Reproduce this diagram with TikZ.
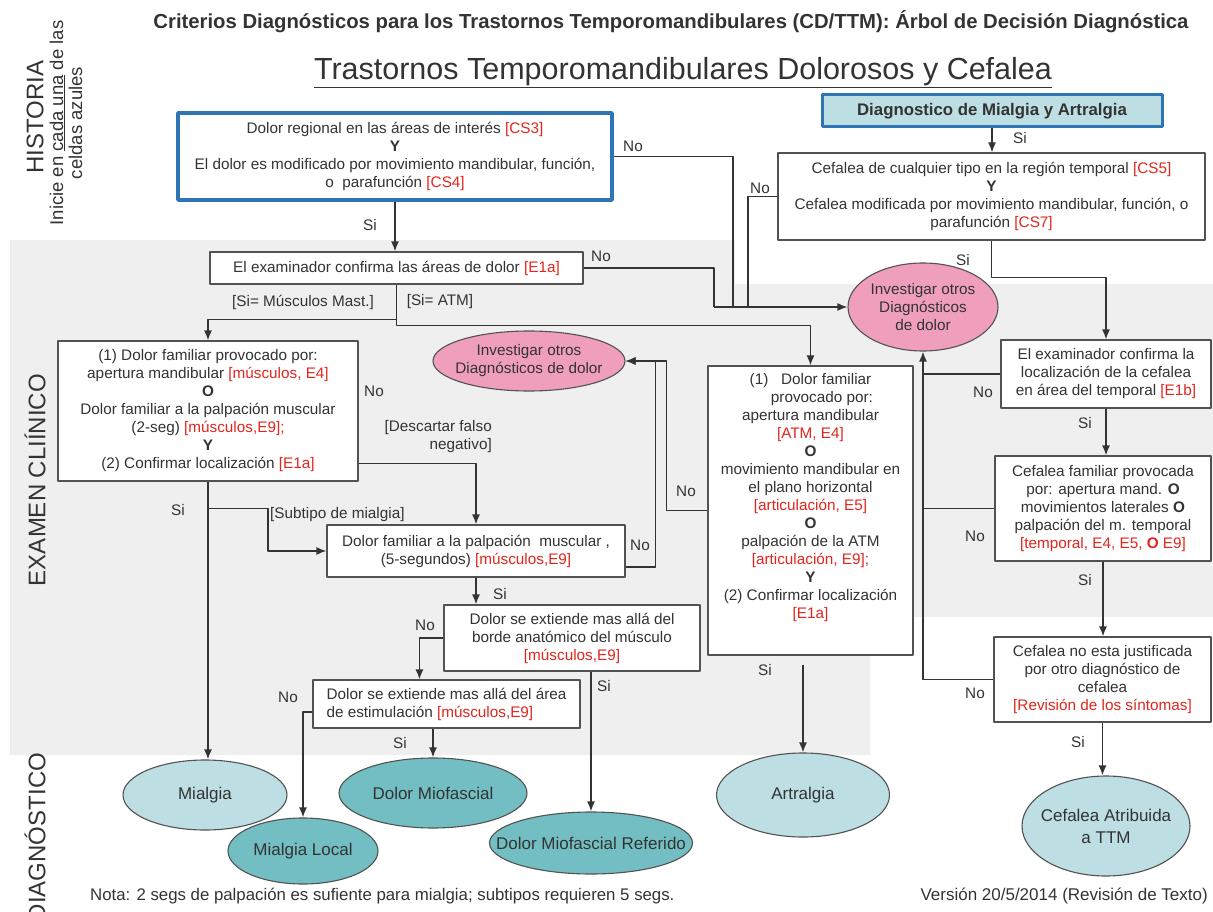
\documentclass[tikz,border=0pt]{standalone}
\usepackage{fontspec}
\setmainfont{Liberation Sans}
\usepackage{tikz}
\usetikzlibrary{arrows.meta, calc, positioning, shapes.geometric}

\definecolor{refblue}{RGB}{46,117,182}
\definecolor{refred}{RGB}{226,38,30}
\definecolor{refpink}{RGB}{240,158,190}
\definecolor{reflight}{RGB}{189,223,227}
\definecolor{refteal}{RGB}{115,190,194}
\definecolor{refgrey}{RGB}{239,239,239}
\definecolor{refink}{RGB}{51,51,51}

\newcommand{\boxfont}{\fontsize{15.3pt}{18pt}\selectfont}
\newcommand{\ovalfont}{\fontsize{17pt}{22pt}\selectfont}
\newcommand{\crit}[1]{\textcolor{refred}{#1}}

\tikzset{
  box/.style={draw=refink!85, line width=1.1pt, fill=white, text=refink,
    font=\boxfont, align=center, inner sep=0pt},
  bluebox/.style={box, draw=refblue, line width=3.5pt},
  headbox/.style={bluebox, fill=reflight, line width=3pt},
  oval/.style={ellipse, draw=refink!85, line width=1.1pt, text=refink,
    font=\ovalfont, align=center, inner xsep=-40pt, inner ysep=-4pt},
  lbl/.style={text=refink, font=\boxfont, inner sep=0pt},
  conn/.style={draw=refink, line width=1.6pt},
  side/.style={text=refink, rotate=90, inner sep=0pt},
}

\begin{document}
\begin{tikzpicture}[x=1pt,y=-1pt,>={Latex[length=10pt,width=8pt]},line join=bevel]
\useasboundingbox (0,0) rectangle (1213,912);
%% grey band of the clinical exam
\fill[refgrey] (10,240) -- (735,240) -- (735,284) -- (1213,284) -- (1213,617)
  -- (870,617) -- (870,755) -- (10,755) -- cycle;
%%
  % Node: title
  \node[text=refink, inner sep=0pt] (title) at (671,22)
    {\fontsize{20.3pt}{22pt}\selectfont\bfseries Criterios Diagnósticos para los Trastornos Temporomandibulares (CD/TTM): Árbol de Decisión Diagnóstica};
  \node[text=refink, inner sep=0pt] (subtitle) at (683,73)
    {\fontsize{30.5pt}{34pt}\selectfont\underline{Trastornos Temporomandibulares Dolorosos y Cefalea}};
  % Node: side labels
  \node[side, font=\fontsize{24pt}{26pt}\selectfont] (historia) at (35,117) {HISTORIA};
  \node[side, align=center, font=\fontsize{18.5pt}{19pt}\selectfont] (inicie) at (66,123)
    {Inicie en \underline{cada una} de las\\celdas azules};
  \node[side, font=\fontsize{24pt}{26pt}\selectfont] (examen) at (35,480) {EXAMEN CLIÍNICO};
  \node[side, font=\fontsize{24pt}{26pt}\selectfont] (diagn) at (35,837) {DIAGNÓSTICO};
%%
  % Node: hist1
  \node[bluebox, minimum width=434pt, minimum height=87pt] (hist1) at (395,156.5)
    {Dolor regional en las áreas de interés \crit{[CS3]}\\ \textbf{Y}\\
     El dolor es modificado por movimiento mandibular, función,\\ o~~parafunción \crit{[CS4]}};
  % Node: diagma
  \node[headbox, minimum width=340pt, minimum height=32pt,
    font=\fontsize{16.8pt}{18pt}\selectfont\bfseries] (diagma) at (992,111)
    {Diagnostico de Mialgia y Artralgia};
  % Node: cef1
  \node[box, minimum width=427pt, minimum height=87pt] (cef1) at (991.5,196.5)
    {Cefalea de cualquier tipo en la región temporal \crit{[CS5]}\\ \textbf{Y}\\
     Cefalea modificada por movimiento mandibular, función, o\\ parafunción \crit{[CS7]}};
  % Node: e1a
  \node[box, minimum width=373pt, minimum height=32pt] (e1a) at (396.5,268)
    {El examinador confirma las áreas de dolor \crit{[E1a]}};
  % Node: inv1
  \node[oval, fill=refpink, font=\boxfont, minimum width=150pt, minimum height=88pt] (inv1) at (923,307)
    {Investigar otros\\ Diagnósticos\\ de dolor};
  % Node: mus1
  \node[box, minimum width=300pt, minimum height=140pt] (mus1) at (208,411)
    {(1) Dolor familiar provocado por:\\ apertura mandibular \crit{[músculos, E4]}\\ \textbf{O}\\
     Dolor familiar a la palpación muscular\\ (2-seg) \crit{[músculos,E9];}\\ \textbf{Y}\\
     (2) Confirmar localización \crit{[E1a]}};
  % Node: inv2
  \node[oval, fill=refpink, font=\boxfont, minimum width=192pt, minimum height=60pt] (inv2) at (529,361)
    {Investigar otros\\ Diagnósticos de dolor};
  % Node: atm
  \node[box, minimum width=205pt, minimum height=289pt] (atm) at (810.5,510.5)
    {(1)~~~Dolor familiar\\ \hspace{1.5em}provocado por:\\ apertura mandibular\\ \crit{[ATM, E4]}\\ \textbf{O}\\
     movimiento mandibular en\\ el plano horizontal\\ \crit{[articulación, E5]}\\ \textbf{O}\\
     palpación de la ATM\\ \crit{[articulación, E9];}\\ \textbf{Y}\\
     (2) Confirmar localización\\ \crit{[E1a]}\\[12pt]};
  % Node: e1b
  \node[box, minimum width=210pt, minimum height=68pt] (e1b) at (1106,374)
    {El examinador confirma la\\ localización de la cefalea\\ en área del temporal \crit{[E1b]}};
  % Node: ceffam
  \node[box, minimum width=216pt, minimum height=105pt] (ceffam) at (1103,508.5)
    {Cefalea familiar provocada\\ por: apertura mand. \textbf{O}\\ movimientos laterales \textbf{O}\\
     palpación del m. temporal\\ \crit{[temporal, E4, E5, \textbf{O} E9]}};
  % Node: cefno
  \node[box, minimum width=217pt, minimum height=85pt] (cefno) at (1102.5,679.5)
    {Cefalea no esta justificada\\ por otro diagnóstico de\\ cefalea\\ \crit{[Revisión de los síntomas]}};
  % Node: palp5
  \node[box, minimum width=298pt, minimum height=52pt] (palp5) at (476,551)
    {Dolor familiar a la palpación~~muscular ,\\ (5-segundos) \crit{[músculos,E9]}};
  % Node: borde
  \node[box, minimum width=256pt, minimum height=66pt] (borde) at (572,638)
    {Dolor se extiende mas allá del\\ borde anatómico del músculo\\ \crit{[músculos,E9]}};
  % Node: area
  \node[box, align=left, minimum width=267pt, minimum height=48pt] (area) at (446.5,704)
    {Dolor se extiende mas allá del área\\ de estimulación \crit{[músculos,E9]}};
%%
  % Node: diagnoses
  \node[oval, fill=reflight, minimum width=164pt, minimum height=70pt] (mial) at (205,795) {Mialgia};
  \node[oval, fill=refteal, minimum width=150pt, minimum height=66pt] (mloc) at (303,851) {Mialgia Local};
  \node[oval, fill=refteal, minimum width=188pt, minimum height=70pt] (dmf) at (433,793) {Dolor Miofascial};
  \node[oval, fill=refteal, minimum width=203pt, minimum height=62pt] (dmfr) at (591,843) {Dolor Miofascial Referido};
  \node[oval, fill=reflight, minimum width=173pt, minimum height=84pt] (artr) at (803,795) {Artralgia};
  \node[oval, fill=reflight, minimum width=168pt, minimum height=100pt] (cefatr) at (1106,826)
    {Cefalea Atribuida\\ a TTM};
%%
  % Node: junctions
  \coordinate (ja) at (714,307);
  \coordinate (jb) at (733,307);
  \coordinate (jc) at (748,307);
%%
  % Edge: hist1 -- e1a
  \draw[conn,->] (hist1.south) -- (hist1.south |- e1a.north);
  \node[lbl] (si1) at (370,225) {Si};
  % Edge: hist1 -- inv1
  \draw[conn] (hist1.east) -| (jb);
  \node[lbl] (no1) at (633,146) {No};
  % Edge: cef1 -- inv1
  \draw[conn] (cef1.west) -| (jc);
  \node[lbl] (no2) at (760,188) {No};
  % Edge: e1a -- inv1
  \draw[conn] (e1a.east) -| (ja);
  \draw[conn,->] (ja) -- (inv1.west);
  \node[lbl] (no3) at (601,256) {No};
  % Edge: e1a -- mus1, e1a -- atm
  \draw[conn,->] (e1a.south) -- ++(0,35) -| (mus1.north);
  \draw[conn,->] (e1a.south) -- ++(0,41) -| (atm.north);
  \node[lbl] (simm) at (303,302) {[Si= Músculos Mast.]};
  \node[lbl] (siatm) at (440,302) {[Si= ATM]};
  % Edge: diagma -- cef1
  \draw[conn,->] (diagma.south) -- (diagma.south |- cef1.north);
  \node[lbl] (si2) at (1020,138) {Si};
  % Edge: cef1 -- e1b
  \draw[conn,->] (cef1.south) -- ++(0,37) -| (e1b.north);
  \node[lbl] (si3) at (963,260) {Si};
  % Edge: e1b -- ceffam -- cefno -- cefatr
  \draw[conn,->] (e1b.south) -- (e1b.south |- ceffam.north);
  \node[lbl] (si4) at (1085,423) {Si};
  \draw[conn,->] (ceffam.south) -- (ceffam.south |- cefno.north);
  \node[lbl] (si5) at (1085,580) {Si};
  \draw[conn,->] (cefno.south) -- (cefno.south |- cefatr.north);
  \node[lbl] (si6) at (1078,742) {Si};
  % Edge: e1b, ceffam, cefno -- inv1
  \draw[conn,->] (cefno.west) -| (inv1.south);
  \draw[conn] (e1b.west) -- (e1b.west -| inv1.south);
  \draw[conn] (ceffam.west) -- (ceffam.west -| inv1.south);
  \node[lbl] (no4) at (983,392) {No};
  \node[lbl] (no5) at (975,536) {No};
  \node[lbl] (no6) at (975,693) {No};
  % Edge: atm -- inv2
  \draw[conn,->] (atm.west) -- ++(-41,0) |- (inv2.east);
  \node[lbl] (no7) at (686,491) {No};
  % Edge: atm -- artr
  \draw[conn,->] ($(artr.north |- atm.south)+(0,9)$) -- (artr.north);
  \node[lbl] (si7) at (765,670) {Si};
  % Edge: mus1 -- palp5
  \draw[conn,->] ($(mus1.south east)+(0,-18)$) -| (palp5.north);
  \node[lbl] (no8) at (374,391) {No};
  \node[lbl, align=right, anchor=east] (falso) at (492,437) {[Descartar falso\\ negativo]};
  % Edge: mus1 -- mial
  \draw[conn,->] (mus1.south) -- (mus1.south |- mial.north);
  \node[lbl] (si8) at (178,510) {Si};
  \draw[conn,->] ($(mus1.south)+(0,27)$) -- ++(60,0) |- (palp5.west);
  \node[lbl, anchor=west] (subt) at (270,515) {[Subtipo de mialgia]};
  % Edge: palp5 -- inv2
  \draw[conn,->] ($(palp5.east)+(0,16)$) -- ++(30,0) |- (inv2.east);
  \node[lbl] (no9) at (640,545) {No};
  % Edge: palp5 -- borde
  \draw[conn,->] (palp5.south) -- (palp5.south |- borde.north);
  \node[lbl] (si9) at (500,594) {Si};
  % Edge: borde -- area
  \draw[conn,->] (borde.west) -| ($(area.north west)+(107,0)$);
  \node[lbl] (no10) at (425,625) {No};
  % Edge: borde -- dmfr
  \draw[conn,->] (borde.south -| dmfr.north) -- (dmfr.north);
  \node[lbl] (si10) at (604,686) {Si};
  % Edge: area -- mloc
  \draw[conn,->] ($(area.west)+(0,8)$) -| (mloc.north);
  \node[lbl] (no11) at (288,697) {No};
  % Edge: area -- dmf
  \draw[conn,->] (area.south -| dmf.north) -- (dmf.north);
  \node[lbl] (si11) at (400,743) {Si};
%%
  % Node: notes
  \node[lbl, anchor=west, font=\fontsize{16.8pt}{18pt}\selectfont] (nota) at (90,896)
    {Nota: 2 segs de palpación es sufiente para mialgia; subtipos requieren 5 segs.};
  \node[lbl, anchor=east, font=\fontsize{17pt}{18pt}\selectfont] (version) at (1208,896)
    {Versión 20/5/2014 (Revisión de Texto)};
%
\end{tikzpicture}
\end{document}
